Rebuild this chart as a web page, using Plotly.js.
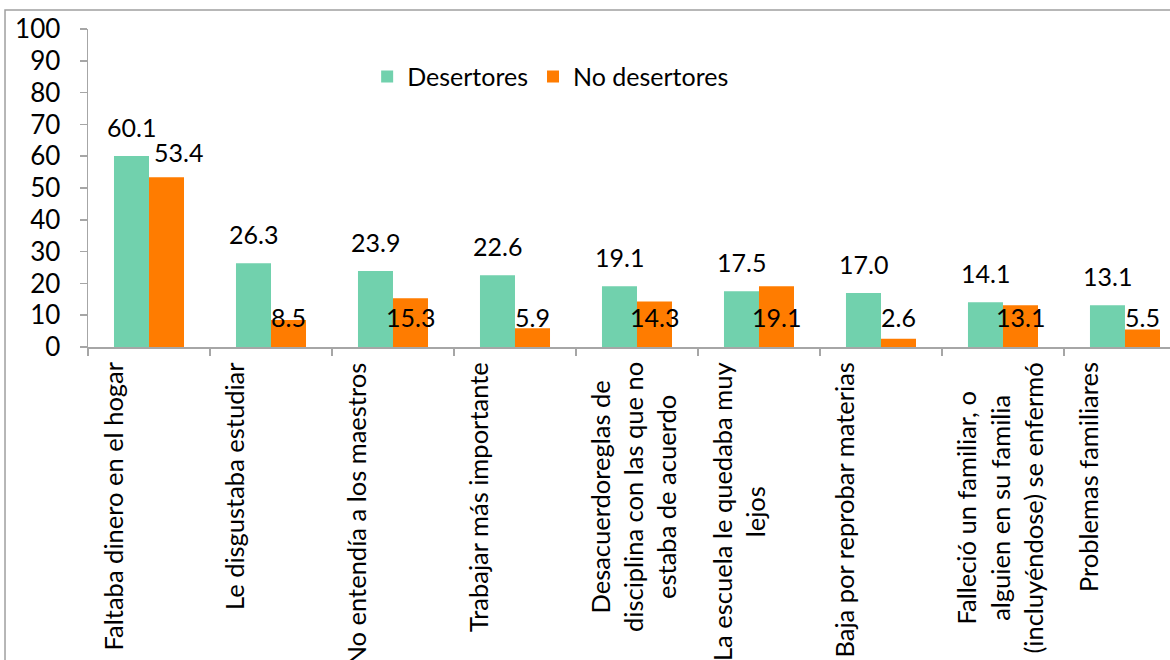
<!DOCTYPE html>
<html>
<head>
<meta charset="utf-8">
<script src="https://cdn.plot.ly/plotly-3.0.1.min.js"></script>
<style>html,body{margin:0;padding:0;background:#fff;}#chart{width:1170px;height:660px;}</style>
</head>
<body>
<div id="chart"></div>
<script>
const categories = [
  "Faltaba dinero en el hogar",
  "Le disgustaba estudiar",
  "No entendía a los maestros",
  "Trabajar más importante",
  "Desacuerdoreglas de<br>disciplina con las que no<br>estaba de acuerdo",
  "La escuela le quedaba muy<br>lejos",
  "Baja por reprobar materias",
  "Falleció un familiar, o<br>alguien en su familia<br>(incluyéndose) se enfermó",
  "Problemas familiares"
];
const desertores   = [60.1, 26.3, 23.9, 22.6, 19.1, 17.5, 17.0, 14.1, 13.1];
const noDesertores = [53.4, 8.5, 15.3, 5.9, 14.3, 19.1, 2.6, 13.1, 5.5];
const seriesNames = ["Desertores", "No desertores"];
const colors = ["#71D1AD", "#FF7C00"];
const yTicks = [0, 10, 20, 30, 40, 50, 60, 70, 80, 90, 100];

const FONT = "Lato, 'Open Sans', sans-serif";
const xIdx = categories.map((c, i) => i);

const traces = [
  {type: "bar", name: seriesNames[0], x: xIdx, y: desertores, marker: {color: colors[0]}, hoverinfo: "none"},
  {type: "bar", name: seriesNames[1], x: xIdx, y: noDesertores, marker: {color: colors[1]}, hoverinfo: "none"}
];

const annotations = [];
// category labels (rotated, lines centered)
categories.forEach((c, i) => {
  annotations.push({
    x: i, y: 0, xref: "x", yref: "y", text: c, showarrow: false,
    textangle: -90, xanchor: "left", yanchor: "top", align: "center",
    xshift: -54, yshift: -13, font: {family: FONT, size: 25.5, color: "#000"}
  });
});
// value labels
desertores.forEach((v, i) => {
  annotations.push({
    x: i, y: v, xref: "x", yref: "y", text: v.toFixed(1), showarrow: false,
    xanchor: "center", yanchor: "middle", xshift: -17.5, yshift: 29,
    font: {family: FONT, size: 25, color: "#000"}
  });
});
noDesertores.forEach((v, i) => {
  const high = v > 30;
  annotations.push({
    x: i, y: high ? v : 0, xref: "x", yref: "y", text: v.toFixed(1), showarrow: false,
    xanchor: "center", yanchor: "middle", xshift: high ? 29 : 17.5, yshift: high ? 25 : 30,
    font: {family: FONT, size: 25, color: "#000"}
  });
});

const layout = {
  width: 1170, height: 660,
  margin: {l: 88, r: 0, t: 29, b: 313, pad: 0},
  paper_bgcolor: "#fff", plot_bgcolor: "#fff",
  font: {family: FONT, size: 25, color: "#000"},
  barmode: "group", bargap: 0.426, bargroupgap: 0,
  showlegend: true,
  legend: {orientation: "h", x: 0.258, y: 0.85, xanchor: "left", yanchor: "middle",
           font: {family: FONT, size: 25, color: "#000"}, bgcolor: "rgba(0,0,0,0)", itemwidth: 30},
  xaxis: {
    type: "linear", range: [-0.5, 8.369], showgrid: false, zeroline: false,
    showline: true, linecolor: "#A6A6A6", linewidth: 1.5,
    ticks: "outside", tickmode: "array", tickvals: [-0.5,0.5,1.5,2.5,3.5,4.5,5.5,6.5,7.5,8.5],
    ticklen: 7, tickcolor: "#A6A6A6", tickwidth: 1.5, showticklabels: false, fixedrange: true
  },
  yaxis: {
    range: [0, 100], tickmode: "array", tickvals: yTicks, ticktext: yTicks.map(String),
    showgrid: false, zeroline: false, showline: true, linecolor: "#A6A6A6", linewidth: 1.5,
    ticks: "outside", ticklen: 7, tickcolor: "#A6A6A6", tickwidth: 1.5,
    tickfont: {family: FONT, size: 26, color: "#000"}, ticklabelstandoff: 14, fixedrange: true
  },
  shapes: [{
    type: "rect", xref: "paper", yref: "paper",
    x0: -0.0767, x1: 1.1, y0: -1, y1: 1.0597,
    line: {color: "#A0A0A0", width: 1.5}, fillcolor: "rgba(0,0,0,0)", layer: "above"
  }],
  annotations: annotations
};

Plotly.newPlot("chart", traces, layout, {displayModeBar: false, staticPlot: true});
</script>
</body>
</html>
